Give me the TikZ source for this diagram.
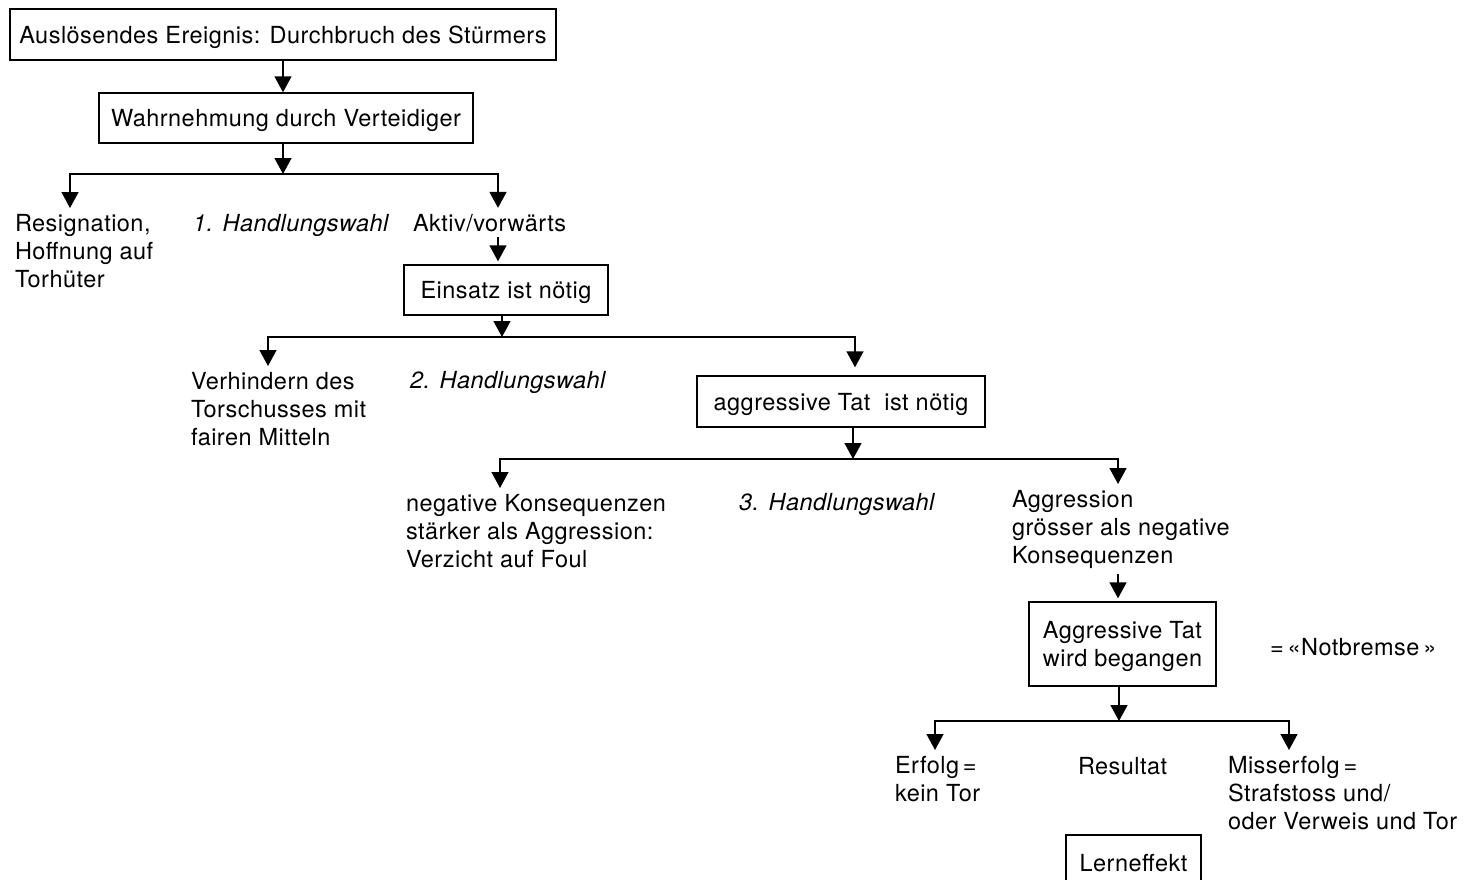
\documentclass[tikz,border=0pt]{standalone}
\usepackage{fontspec}
\newfontfamily\helv{TeX Gyre Heros}[LetterSpace=2]
\usetikzlibrary{arrows.meta}
\newcommand{\diafont}{\helv\fontsize{23.5}{28}\selectfont}
\tikzset{
  kasten/.style={rectangle, draw=black, line width=1.4pt, inner sep=0pt,
                 text depth=0pt, align=center, font=\diafont},
  txt/.style={inner sep=0pt, outer xsep=0pt, outer ysep=6pt,
              align=left, font=\diafont},
  wahl/.style={inner sep=0pt, font=\diafont\itshape},
  arr/.style={-{Triangle[length=16pt,width=17pt]}, line width=1.4pt},
  tobox/.style={shorten >=3pt},
}

\begin{document}
\begin{tikzpicture}[x=1pt, y=-1pt]
  \useasboundingbox (0,0) rectangle (1464,879);
  \clip (0,0) rectangle (1464,879);

  % Kaesten
  \node[kasten, minimum width=546pt, minimum height=51pt] (ereignis) at (283,34.5)
    {Auslösendes Ereignis: Durchbruch des Stürmers};
  \node[kasten, minimum width=374pt, minimum height=50pt] (wahrnehmung) at (286,118)
    {Wahrnehmung durch Verteidiger};
  \node[kasten, minimum width=204pt, minimum height=50pt] (einsatz) at (506,290)
    {Einsatz ist nötig};
  \node[kasten, minimum width=288pt, minimum height=51pt] (aggtat) at (841,401.5)
    {aggressive Tat~ ist nötig};
  \node[kasten, minimum width=187pt, minimum height=84pt] (begangen) at (1122.5,644)
    {Aggressive Tat\\wird begangen};
  \node[kasten, minimum width=135pt, minimum height=56pt] (lerneffekt) at (1133.5,863)
    {Lerneffekt};

  % Texte
  \node[txt, anchor=north west] (resig) at (15,208) {Resignation,\\Hoffnung auf\\Torhüter};
  \node[wahl, anchor=base west] (wahl1) at (193,231) {1. Handlungswahl};
  \node[txt, anchor=base west] (aktiv) at (413,231) {Aktiv/vorwärts};
  \node[txt, anchor=north west] (verh) at (191,366) {Verhindern des\\Torschusses mit\\fairen Mitteln};
  \node[wahl, anchor=base west] (wahl2) at (410,388) {2. Handlungswahl};
  \node[txt, anchor=north west] (negk) at (406,488) {negative Konsequenzen\\stärker als Aggression:\\Verzicht auf Foul};
  \node[wahl, anchor=base west] (wahl3) at (739,510) {3. Handlungswahl};
  \node[txt, anchor=north west] (aggr) at (1012,484) {Aggression\\grösser als negative\\Konsequenzen};
  \node[txt, anchor=base west] (notbremse) at (1270,655) {=\,«Notbremse\,»};
  \node[txt, anchor=north west] (erfolg) at (895,750) {Erfolg\,=\\kein Tor};
  \node[txt, anchor=base west] (resultat) at (1078,774) {Resultat};
  \node[txt, anchor=north west] (misserfolg) at (1228,750) {Misserfolg\,=\\Strafstoss und/\\oder Verweis und Tor};

  % Verzweigungen
  \coordinate (k1) at (283,174);  \coordinate (k1l) at (70,174);  \coordinate (k1r) at (498,174);
  \coordinate (k2) at (502,337);  \coordinate (k2l) at (268,337); \coordinate (k2r) at (855,337);
  \coordinate (k3) at (853,459);  \coordinate (k3l) at (500,459); \coordinate (k3r) at (1118,459);
  \coordinate (k4) at (1119,721); \coordinate (k4l) at (935,721); \coordinate (k4r) at (1289,721);

  \draw[arr] (ereignis.south -| k1) -- (k1 |- wahrnehmung.north);
  \draw[arr] (k1 |- wahrnehmung.south) -- (k1);
  \draw[arr] (k1) -| (k1l |- resig.north);
  \draw[arr] (k1) -| (k1r |- aktiv.north);
  \draw[arr, tobox] (k1r |- aktiv.south) -- (k1r |- einsatz.north);

  \draw[arr] (k2 |- einsatz.south) -- (k2);
  \draw[arr] (k2) -| (k2l |- verh.north);
  \draw[arr, shorten >=8pt] (k2) -| (k2r |- aggtat.north);

  \draw[arr] (k3 |- aggtat.south) -- (k3);
  \draw[arr] (k3) -| (k3l |- negk.north);
  \draw[arr] (k3) -| (k3r |- aggr.north);
  \draw[arr, tobox] (k3r |- aggr.south) -- (k3r |- begangen.north);

  \draw[arr] (k4 |- begangen.south) -- (k4);
  \draw[arr] (k4) -| (k4l |- erfolg.north);
  \draw[arr] (k4) -| (k4r |- misserfolg.north);
\end{tikzpicture}
\end{document}
